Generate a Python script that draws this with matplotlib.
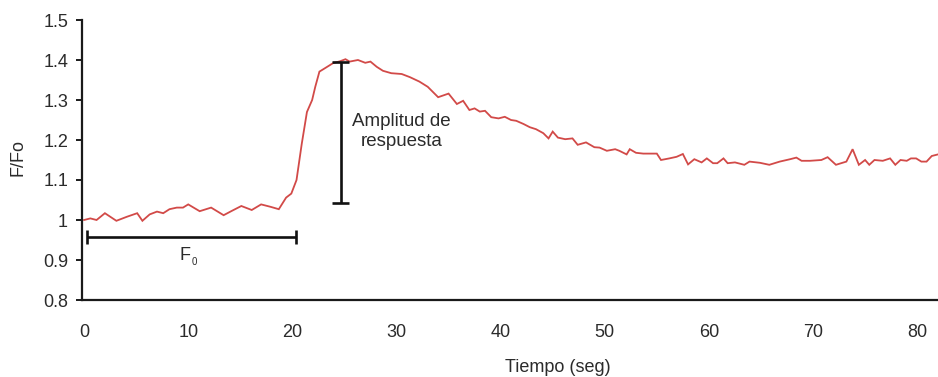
import matplotlib
matplotlib.use("Agg")
import matplotlib.pyplot as plt
from matplotlib.ticker import FixedLocator, FixedFormatter

plt.rcParams['font.family'] = ['Liberation Sans', 'DejaVu Sans']

# Fluorescence trace (time in s, normalised fluorescence F/Fo)
tiempo = [0.0, 0.6, 1.2, 2.0, 3.1, 4.1, 5.1, 5.6, 6.3, 7.0, 7.6, 8.2, 8.9, 9.5,
          10.0, 11.1, 12.2, 13.4, 14.2, 15.1, 16.1, 17.0, 17.9, 18.7, 19.4,
          19.9, 20.4, 20.9, 21.4, 21.9, 22.2, 22.6, 23.1, 23.9, 24.6, 25.1,
          25.5, 26.3, 27.0, 27.5, 28.1, 28.7, 29.5, 30.5, 31.3, 32.2, 33.0,
          34.0, 35.0, 35.8, 36.4, 37.0, 37.5, 38.0, 38.5, 39.1, 39.8, 40.4,
          41.0, 41.5, 42.2, 42.8, 43.4, 44.1, 44.6, 45.0, 45.5, 46.2, 46.9,
          47.4, 48.2, 49.0, 49.5, 50.2, 51.0, 51.4, 52.1, 52.4, 53.0, 53.7,
          55.0, 55.4, 56.2, 56.9, 57.5, 58.0, 58.6, 59.3, 59.8, 60.4, 60.8,
          61.4, 61.8, 62.5, 63.4, 63.9, 64.9, 65.8, 66.8, 67.8, 68.4, 68.9,
          69.7, 70.8, 71.4, 72.2, 73.2, 73.8, 74.4, 75.0, 75.4, 75.9, 76.7,
          77.4, 77.9, 78.4, 79.0, 79.4, 79.9, 80.4, 80.9, 81.4, 82.0]
f_fo = [1.000, 1.004, 1.000, 1.017, 0.998, 1.008, 1.017, 0.998, 1.014, 1.021,
        1.017, 1.027, 1.031, 1.031, 1.039, 1.022, 1.031, 1.012, 1.023, 1.035,
        1.025, 1.039, 1.033, 1.027, 1.056, 1.066, 1.100, 1.190, 1.270, 1.300,
        1.333, 1.371, 1.379, 1.392, 1.397, 1.402, 1.396, 1.400, 1.393, 1.396,
        1.383, 1.373, 1.367, 1.365, 1.357, 1.346, 1.333, 1.307, 1.316, 1.290,
        1.298, 1.275, 1.279, 1.271, 1.273, 1.257, 1.254, 1.258, 1.250, 1.248,
        1.240, 1.232, 1.227, 1.217, 1.204, 1.221, 1.206, 1.202, 1.204, 1.188,
        1.194, 1.182, 1.181, 1.173, 1.177, 1.173, 1.164, 1.177, 1.168, 1.166,
        1.166, 1.150, 1.154, 1.158, 1.165, 1.139, 1.152, 1.144, 1.154, 1.142,
        1.142, 1.154, 1.142, 1.144, 1.138, 1.146, 1.143, 1.138, 1.146, 1.152,
        1.156, 1.148, 1.148, 1.150, 1.157, 1.138, 1.146, 1.177, 1.138, 1.150,
        1.138, 1.150, 1.148, 1.154, 1.138, 1.150, 1.148, 1.154, 1.154, 1.146,
        1.146, 1.160, 1.164]

x_ticks = [0, 10, 20, 30, 40, 50, 60, 70, 80]
y_ticks = [0.8, 0.9, 1.0, 1.1, 1.2, 1.3, 1.4, 1.5]
y_tick_labels = ["0.8", "0.9", "1", "1.1", "1.2", "1.3", "1.4", "1.5"]

# Baseline window (Fo) and response amplitude markers
fo_inicio, fo_fin, fo_nivel = 0.3, 20.35, 0.958
amp_t, amp_base, amp_pico = 24.65, 1.042, 1.394

text_color = "#2b2b2b"
fig = plt.figure(figsize=(9.38, 3.77), dpi=100)
ax = fig.add_axes([82 / 938, 77 / 377, 856 / 938, 280 / 377])

ax.plot(tiempo, f_fo, color="#d24a48", lw=1.3, solid_joinstyle="miter")

ax.set_xlim(-0.2, 82.0)
ax.set_ylim(0.8, 1.5)
ax.spines["top"].set_visible(False)
ax.spines["right"].set_visible(False)
for s in ("left", "bottom"):
    ax.spines[s].set_linewidth(1.6)
    ax.spines[s].set_color("#1a1a1a")

ax.xaxis.set_major_locator(FixedLocator(x_ticks))
ax.yaxis.set_major_locator(FixedLocator(y_ticks))
ax.yaxis.set_major_formatter(FixedFormatter(y_tick_labels))
ax.tick_params(axis="x", length=0, pad=17, labelsize=13, labelcolor=text_color)
ax.tick_params(axis="y", length=4, width=1.4, color="#1a1a1a", pad=6,
               labelsize=13, labelcolor=text_color)

ax.text(0.556, -0.24, "Tiempo (seg)", transform=ax.transAxes, ha="center",
        va="center", fontsize=13, color=text_color)
ax.text(-0.075, 0.51, "F/Fo", transform=ax.transAxes, ha="center",
        va="center", rotation=90, fontsize=13, color=text_color)

bracket = dict(color="#111111", lw=1.9, solid_capstyle="butt")
# Fo window
ax.plot([fo_inicio, fo_fin], [fo_nivel, fo_nivel], **bracket)
for xc in (fo_inicio, fo_fin):
    ax.plot([xc, xc], [fo_nivel - 0.018, fo_nivel + 0.018], **bracket)
ax.text(9.69, 0.9125, "F", ha="center", va="center", fontsize=13, color=text_color)
ax.text(10.6, 0.895, "0", ha="center", va="center", fontsize=7, color=text_color)

# Response amplitude
ax.plot([amp_t, amp_t], [amp_base, amp_pico], **bracket)
for yc in (amp_base, amp_pico):
    ax.plot([amp_t - 0.8, amp_t + 0.8], [yc, yc], **bracket)
ax.text(30.5, 1.222, "Amplitud de\nrespuesta", ha="center", va="center",
        fontsize=13.5, color=text_color, linespacing=1.2)

fig.savefig("out.png", dpi=100)
